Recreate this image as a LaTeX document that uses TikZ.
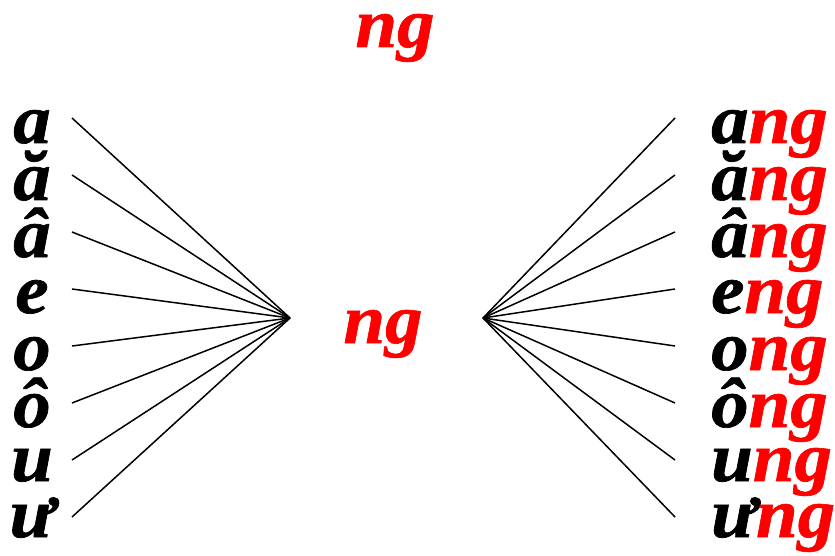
\documentclass[tikz,border=0pt]{standalone}
\usepackage{fontspec}
\setmainfont{Liberation Serif}
\newfontfamily\widefont[FakeStretch=1.07,FakeBold=1.0]{Liberation Serif}
\begin{document}
\begin{tikzpicture}[x=1pt,y=-1pt,
  lbl/.style={inner sep=0pt,font=\widefont\fontsize{70}{70}\selectfont\bfseries\itshape},
  red/.style={text=red},
  link/.style={line width=1.5pt,black}]
\useasboundingbox (0,0) rectangle (835,556);
\definecolor{red}{RGB}{255,0,0}
% top and middle labels
\node[lbl,red,anchor=base] (top) at (395,47) {ng};
\node[lbl,red,anchor=base] (mid) at (383,343) {ng};
% hubs
\coordinate (hl) at (290,318);
\coordinate (hr) at (483,318);
% rows
\foreach \i/\v/\b/\ly in {1/a/143/118,2/ă/200/175,3/â/257/232,4/e/313/289,5/o/370/346,6/ô/427/403,7/u/481/460,8/ư/537/517}{
  \node[lbl,anchor=base] (L\i) at (32,\b) {\v};
  \node[lbl,anchor=base west] (R\i) at (711,\b) {\v\textcolor{red}{ng}};
  \coordinate (la\i) at (72,\ly);
  \coordinate (ra\i) at (675,\ly);
  \draw[link] (la\i) -- (hl);
  \draw[link] (hr) -- (ra\i);
}
\end{tikzpicture}
\end{document}
